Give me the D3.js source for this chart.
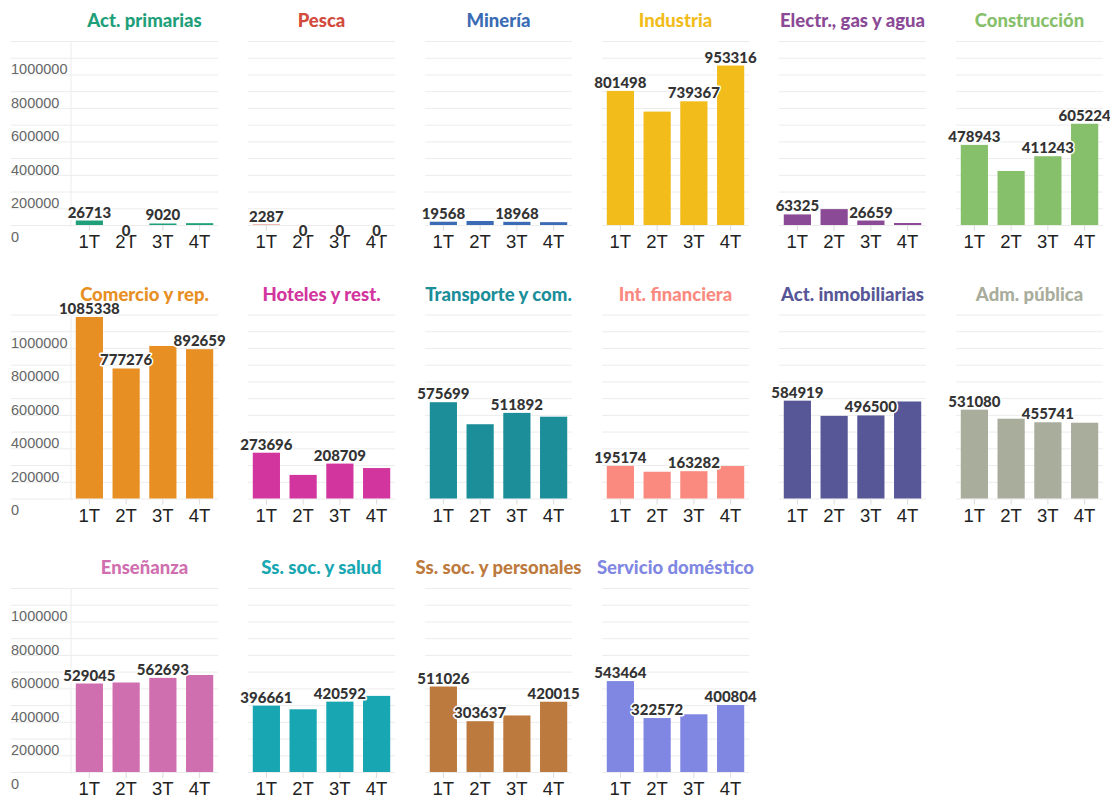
<!DOCTYPE html>
<html>
<head>
<meta charset="utf-8">
<script src="https://cdn.jsdelivr.net/npm/d3@7"></script>
<style>
  body { margin: 0; background: #fff; }
  svg { display: block; font-family: Lato, "Noto Sans", sans-serif; }
</style>
</head>
<body>
<div id="chart"></div>
<script>
// small multiples: ocupados por rama y trimestre

const quarters = ["1T", "2T", "3T", "4T"];

const sectors = [
    "Act. primarias", "Pesca", "Minería", "Industria", "Electr., gas y agua", "Construcción",
    "Comercio y rep.", "Hoteles y rest.", "Transporte y com.", "Int. financiera", "Act. inmobiliarias", "Adm. pública",
    "Enseñanza", "Ss. soc. y salud", "Ss. soc. y personales", "Servicio doméstico"
];

const colors = [
    "#1fa07a", "#d14a3b", "#3a6bb4", "#f2bc1b", "#8b4a96", "#87c06b",
    "#e88f24", "#d2359d", "#1b8e99", "#fa8a80", "#575797", "#a9ad9c",
    "#d06fb0", "#18a7b2", "#bd7a3e", "#7f87e2"
];

// values per quarter (1T..4T); unlabelled bars
const values = [
    [26713, 0, 9020, 11000],
    [2287, 0, 0, 0],
    [19568, 24000, 18968, 17000],
    [801498, 678000, 739367, 953316],
    [63325, 95000, 26659, 12000],
    [478943, 323000, 411243, 605224],
    [1085338, 777276, 912000, 892659],
    [273696, 141000, 208709, 182000],
    [575699, 444000, 511892, 489000],
    [195174, 160000, 163282, 194000],
    [584919, 494000, 496500, 580000],
    [531080, 477000, 455741, 453000],
    [529045, 535000, 562693, 580000],
    [396661, 375000, 420592, 455000],
    [511026, 303637, 338000, 420015],
    [543464, 322572, 345000, 400804]
];

// which quarters carry a value label in each panel
const shownLabels = [
    [0, 1, 2], [0, 1, 2, 3], [0, 2], [0, 2, 3], [0, 2], [0, 2, 3],
    [0, 1, 3], [0, 2], [0, 2], [0, 2], [0, 2], [0, 2],
    [0, 2], [0, 2], [0, 1, 3], [0, 1, 3]
];

const yLabelTicks = [0, 200000, 400000, 600000, 800000, 1000000];
const yGridTicks = d3.range(0, 1100001, 100000);
const yMax = 1100000;

let width = 1110, height = 796;
let colX0 = 71, colStep = 177, plotW = 147;
let rowBase0 = 225, rowStep = 273.5, plotH = 184;

let svg = d3.select("#chart")
    .append("svg")
    .attr("width", width)
    .attr("height", height);

let y = d3.scaleLinear().domain([0, yMax]).range([plotH, 0]);
let x = d3.scaleBand().domain(quarters).range([0, plotW])
    .paddingInner(0.26).paddingOuter(0.13);

sectors.forEach((name, i) => {
    let col = i % 6, row = Math.floor(i / 6);
    let g = svg.append("g")
        .attr("transform", "translate(" + (colX0 + col * colStep) + "," + (rowBase0 + row * rowStep - plotH) + ")");

    // gridlines
    let gridLeft = col == 0 ? -60 : 0;
    let grid = g.append("g")
        .attr("transform", "translate(" + gridLeft + ",0)")
        .call(d3.axisLeft(y).tickValues(yGridTicks).tickSize(-(plotW - gridLeft)).tickFormat(""));
    grid.select(".domain").remove();
    grid.selectAll("line").attr("stroke", "#ececec");

    if (col == 0) {
        g.append("line")
            .attr("x1", 0).attr("x2", 0)
            .attr("y1", 0).attr("y2", plotH + 2)
            .attr("stroke", "#ececec");

        let yAxis = g.append("g")
            .call(d3.axisLeft(y).tickValues(yLabelTicks).tickSize(0).tickFormat(d3.format("d")));
        yAxis.select(".domain").remove();
        yAxis.selectAll("text")
            .attr("x", -60)
            .attr("dy", 16)
            .attr("text-anchor", "start")
            .attr("fill", "#666")
            .style("font-size", "14.5px");
    }

    // title
    g.append("text")
        .attr("x", plotW / 2)
        .attr("y", -14)
        .attr("text-anchor", "middle")
        .attr("fill", colors[i])
        .style("font-size", "18.5px")
        .style("font-weight", "900")
        .text(name);

    // bars
    let data = quarters.map((q, k) => ({ q: q, v: values[i][k], k: k }));
    g.selectAll("rect")
        .data(data)
        .join("rect")
        .attr("x", d => x(d.q))
        .attr("width", x.bandwidth())
        .attr("y", d => y(d.v))
        .attr("height", d => plotH - y(d.v))
        .attr("fill", colors[i]);

    // x axis
    let xAxis = g.append("g")
        .attr("transform", "translate(0," + plotH + ")")
        .call(d3.axisBottom(x).tickSize(6).tickPadding(4));
    xAxis.select(".domain").remove();
    xAxis.selectAll("line").attr("stroke", "#dcdcdc");
    xAxis.selectAll("text")
        .attr("fill", "#222")
        .style("font-size", "18.5px");

    // value labels with white halo
    g.selectAll(".val")
        .data(data.filter(d => shownLabels[i].includes(d.k)))
        .join("text")
        .attr("class", "val")
        .attr("x", d => x(d.q) + x.bandwidth() / 2)
        .attr("y", d => d.v == 0 ? y(0) + 11 : y(d.v) - 3)
        .attr("text-anchor", "middle")
        .attr("fill", "#333")
        .attr("stroke", "#fff")
        .attr("stroke-width", 3)
        .attr("stroke-linejoin", "round")
        .attr("paint-order", "stroke")
        .style("font-size", "15px")
        .style("font-weight", "900")
        .text(d => d.v);
});
</script>
</body>
</html>
